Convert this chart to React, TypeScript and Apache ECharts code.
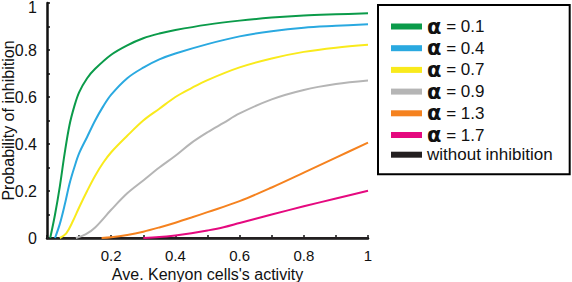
import React, { useEffect, useRef } from "react";
import * as echarts from "echarts";

const seriesNames = ["α = 0.1", "α = 0.4", "α = 0.7", "α = 0.9", "α = 1.3", "α = 1.7", "without inhibition"];
const seriesColors = ["#0b9b4a", "#2aa9e0", "#f9ea1c", "#b5b5b5", "#f5821f", "#e5097f", "#231f20"];

const x01 = [0.01, 0.025, 0.04, 0.055, 0.07, 0.085, 0.1, 0.125, 0.15, 0.2, 0.25, 0.3, 0.35, 0.4, 0.5, 0.6, 0.7, 0.8, 0.9, 1.0];
const y01 = [0, 0.1, 0.22, 0.36, 0.48, 0.56, 0.62, 0.68, 0.72, 0.78, 0.82, 0.85, 0.87, 0.885, 0.908, 0.925, 0.938, 0.947, 0.952, 0.956];

const x04 = [0.025, 0.04, 0.055, 0.07, 0.085, 0.1, 0.125, 0.15, 0.175, 0.2, 0.25, 0.3, 0.35, 0.4, 0.5, 0.6, 0.7, 0.8, 0.9, 1.0];
const y04 = [0, 0.06, 0.14, 0.23, 0.3, 0.36, 0.43, 0.5, 0.56, 0.61, 0.68, 0.725, 0.76, 0.785, 0.825, 0.858, 0.88, 0.895, 0.903, 0.91];

const x07 = [0.04, 0.06, 0.08, 0.1, 0.125, 0.15, 0.175, 0.2, 0.25, 0.3, 0.35, 0.4, 0.45, 0.5, 0.6, 0.7, 0.8, 0.9, 1.0];
const y07 = [0, 0.02, 0.07, 0.13, 0.2, 0.265, 0.32, 0.365, 0.435, 0.5, 0.55, 0.6, 0.638, 0.672, 0.726, 0.764, 0.792, 0.81, 0.822];

const x09 = [0.09, 0.12, 0.15, 0.2, 0.25, 0.3, 0.35, 0.4, 0.45, 0.5, 0.55, 0.6, 0.7, 0.8, 0.9, 1.0];
const y09 = [0, 0.015, 0.045, 0.12, 0.19, 0.245, 0.3, 0.35, 0.405, 0.45, 0.49, 0.53, 0.59, 0.63, 0.655, 0.67];

const x13 = [0.17, 0.2, 0.25, 0.3, 0.35, 0.4, 0.45, 0.5, 0.6, 0.7, 0.8, 0.9, 1.0];
const y13 = [0, 0.003, 0.013, 0.027, 0.045, 0.065, 0.087, 0.11, 0.157, 0.215, 0.278, 0.342, 0.406];

const x17 = [0.3, 0.35, 0.4, 0.45, 0.5, 0.55, 0.6, 0.7, 0.8, 0.9, 1.0];
const y17 = [0, 0.004, 0.011, 0.02, 0.032, 0.046, 0.064, 0.1, 0.135, 0.168, 0.201];

const xNone = [0, 1];
const yNone = [0, 0];

const seriesX = [x01, x04, x07, x09, x13, x17, xNone];
const seriesY = [y01, y04, y07, y09, y13, y17, yNone];

const xTitle = "Ave. Kenyon cells's activity";
const yTitle = "Probability of inhibition";

const FONT = "Liberation Sans, Arial, Helvetica, sans-serif";

function fmt(v: number) {
  return String(Number(v.toFixed(1)));
}

export default function App() {
  const ref = useRef<HTMLDivElement>(null);
  useEffect(() => {
    if (!ref.current) return;
    const chart = echarts.init(ref.current, null, { renderer: "svg" });
    const series: any[] = seriesNames.map((name, i) => ({
      name,
      type: "line",
      data: seriesX[i].map((x, j) => [x, seriesY[i][j]]),
      showSymbol: false,
      symbol: "none",
      smooth: 0.35,
      lineStyle: { color: seriesColors[i], width: 2 },
      itemStyle: { color: seriesColors[i] },
      z: i === 6 ? 1 : 3,
    }));
    chart.setOption({
      animation: false,
      backgroundColor: "#ffffff",
      grid: { left: 47, right: 204, top: 3, bottom: 44, containLabel: false, outerBoundsMode: "none" },
      legend: {
        orient: "vertical",
        left: 378,
        top: 5,
        data: seriesNames,
        icon: "rect",
        itemWidth: 31,
        itemHeight: 6,
        itemGap: 0.7,
        borderColor: "#000",
        borderWidth: 2,
        borderRadius: 0,
        padding: [11, 17, 11, 13],
        backgroundColor: "#fff",
        formatter: (name: string) =>
          name.startsWith("α") ? `{a|α}{t|${name.slice(1)}}` : `{t|${name}}`,
        textStyle: {
          color: "#111",
          fontFamily: FONT,
          fontSize: 17,
          lineHeight: 16,
          rich: {
            a: { fontSize: 21, fontFamily: "DejaVu Sans, sans-serif", fontWeight: "bold", color: "#111", lineHeight: 16 },
            t: { fontSize: 17, fontFamily: FONT, color: "#111", lineHeight: 16 },
          },
        },
      },
      xAxis: {
        type: "value",
        min: 0,
        max: 1,
        interval: 0.1,
        name: xTitle,
        nameLocation: "middle",
        nameGap: 28,
        nameMoveOverlap: false,
        nameTextStyle: { fontFamily: FONT, fontSize: 16, color: "#111" },
        axisLine: { show: true, onZero: false, lineStyle: { color: "#111", width: 2.5 } },
        axisTick: { show: true, inside: true, length: 3, lineStyle: { color: "#111", width: 1.5 } },
        axisLabel: {
          fontFamily: FONT,
          fontSize: 15,
          color: "#111",
          margin: 10,
          formatter: (v: number) => {
            if (v === 0) return "";
            const t = Math.round(v * 10);
            return t % 2 === 0 ? fmt(v) : "";
          },
        },
        splitLine: { show: false },
      },
      yAxis: {
        type: "value",
        min: 0,
        max: 1,
        interval: 0.1,
        name: yTitle,
        nameLocation: "middle",
        nameGap: 31,
        nameMoveOverlap: false,
        nameTextStyle: { fontFamily: FONT, fontSize: 16, color: "#111" },
        axisLine: { show: true, onZero: false, lineStyle: { color: "#111", width: 2.5 } },
        axisTick: { show: true, inside: true, length: 3, lineStyle: { color: "#111", width: 1.5 } },
        axisLabel: {
          fontFamily: FONT,
          fontSize: 16,
          color: "#111",
          margin: 10,
          formatter: (v: number) => {
            const t = Math.round(v * 10);
            if (t === 10) return "{top|1}";
            return t % 2 === 0 ? fmt(v) : "";
          },
          rich: {
            top: { fontFamily: FONT, fontSize: 16, color: "#111", padding: [8, 0, 0, 0] },
          },
        },
        splitLine: { show: false },
      },
      series,
    });
    return () => chart.dispose();
  }, []);
  return (
    <div
      ref={ref}
      style={{ position: "fixed", left: 0, top: 0, width: 572, height: 282, background: "#fff" }}
    />
  );
}
